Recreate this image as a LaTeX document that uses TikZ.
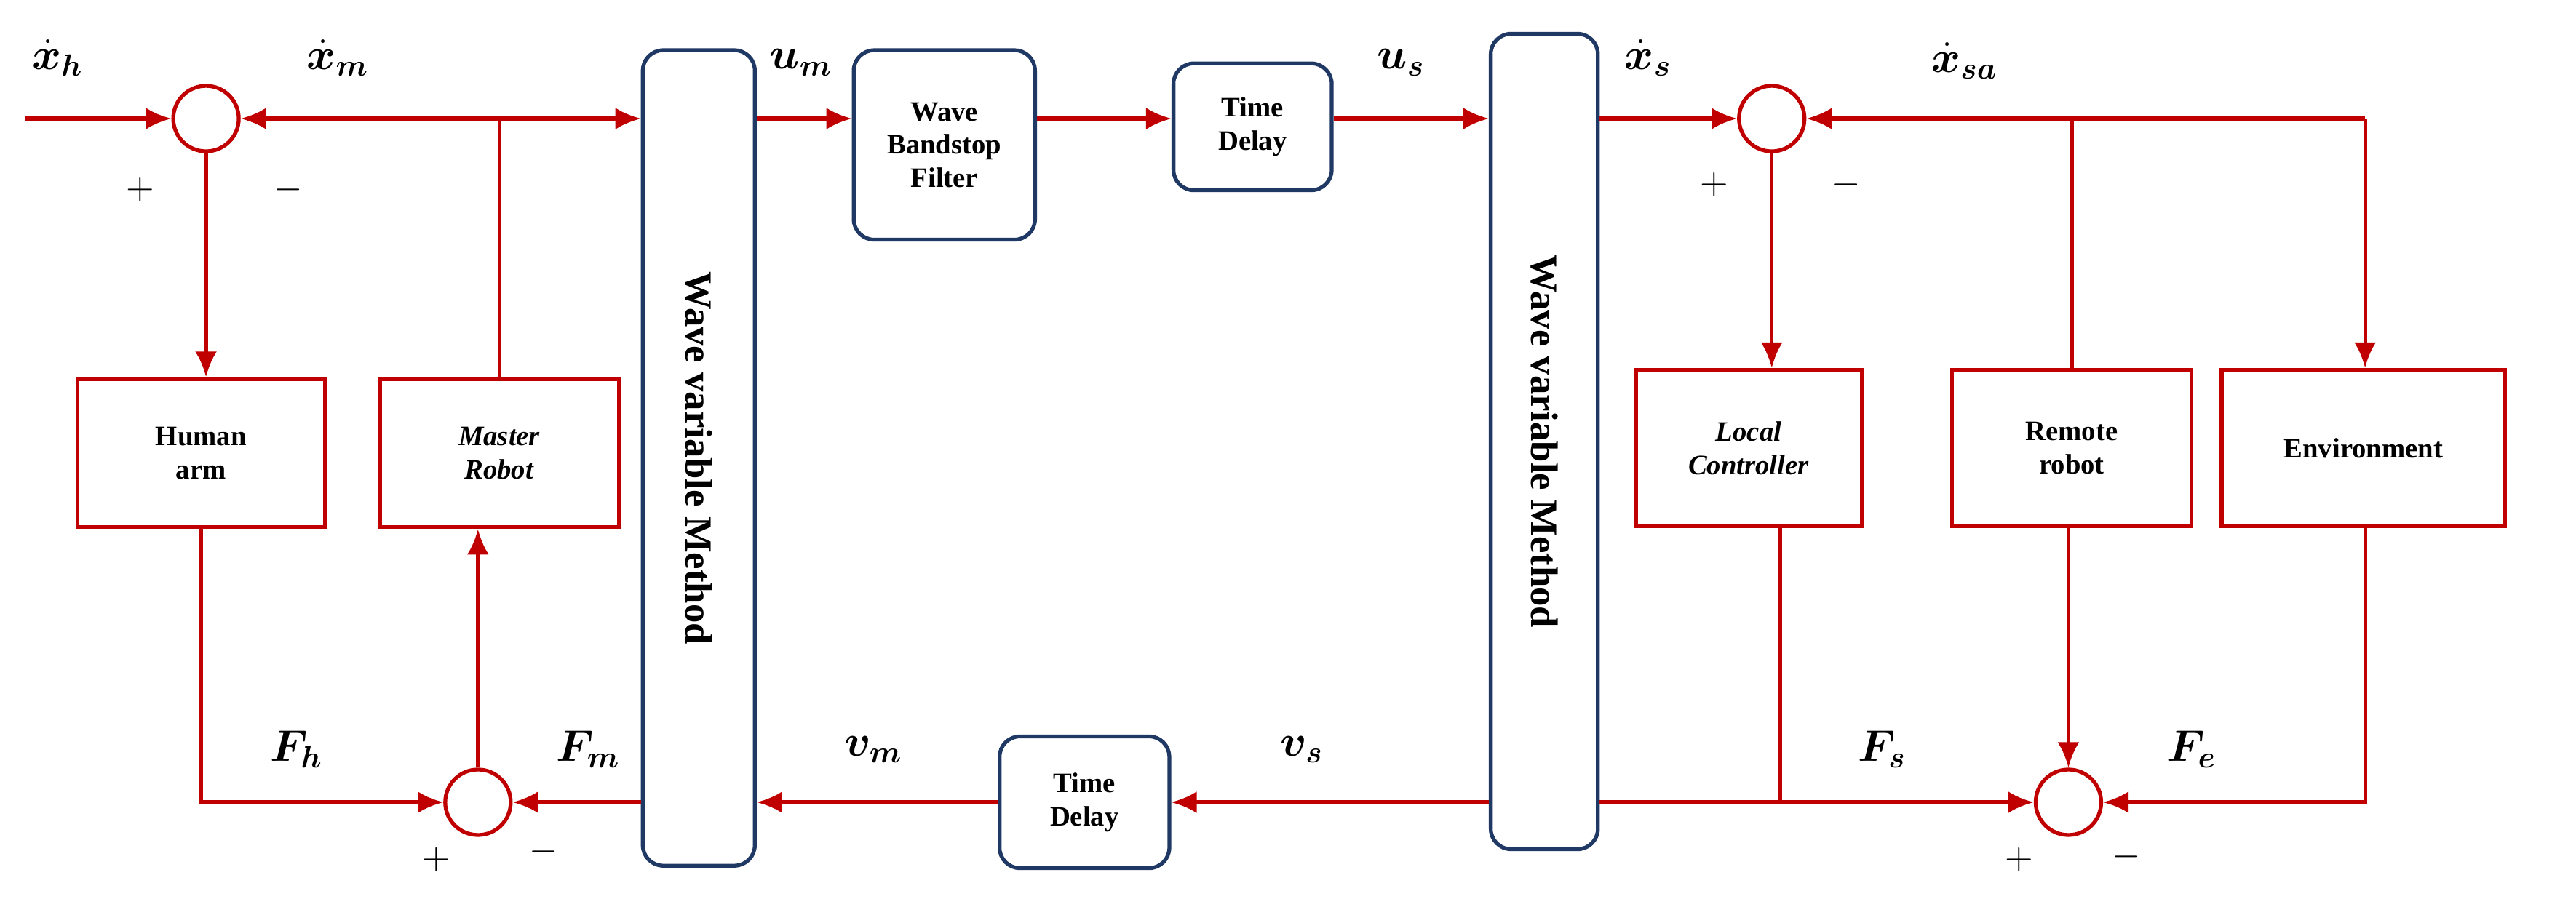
\documentclass[tikz,border=0pt]{standalone}
\usepackage{amsmath,bm}
\usepackage{fontspec}
\setmainfont{Liberation Serif}
\usetikzlibrary{arrows.meta, positioning}
\definecolor{lred}{RGB}{192,0,0}
\definecolor{navy}{RGB}{31,56,100}
\tikzset{
  sum/.style={circle, draw=lred, line width=1.5pt, minimum size=0.9cm, inner sep=0pt},
  blk/.style={draw=lred, line width=1.5pt, font=\bfseries\fontsize{11}{13}\selectfont, align=center, inner sep=0pt},
  rblk/.style={draw=navy, line width=1.5pt, rounded corners=8pt, font=\bfseries\fontsize{11}{13}\selectfont, align=center, inner sep=0pt},
  lab/.style={font=\fontsize{18}{20}\selectfont},
  sg/.style={font=\fontsize{14}{16}\selectfont},
  line/.style={lred, line width=1.5pt},
}
\begin{document}
\begin{tikzpicture}[x=0.02265cm, y=-0.02265cm, >={Latex[length=3.5mm,width=3mm]}]
\useasboundingbox (0,0) rectangle (1563,560);
        % summing points
        \node[sum] (s1) at (125,72) {};
        \node[sum] (s2) at (290,487) {};
        \node[sum] (s3) at (1075,72) {};
        \node[sum] (s4) at (1255,487) {};
        % blocks
        \node[blk, minimum width=150*0.02265cm, minimum height=90*0.02265cm] (arm) at (122,275) {Human\\arm};
        \node[blk, minimum width=145*0.02265cm, minimum height=90*0.02265cm] (mr) at (303,275) {\textit{Master}\\\textit{Robot}};
        \node[rblk, minimum width=68*0.02265cm, minimum height=495*0.02265cm] (wv1) at (424,278) {};
        \node[rotate=-90, font=\bfseries\fontsize{15}{17}\selectfont] at (wv1) {Wave variable Method};
        \node[rblk, minimum width=110*0.02265cm, minimum height=115*0.02265cm] (bsf) at (573,88) {Wave\\Bandstop\\Filter};
        \node[rblk, minimum width=96*0.02265cm, minimum height=77*0.02265cm] (td1) at (760,77) {Time\\Delay};
        \node[rblk, minimum width=65*0.02265cm, minimum height=495*0.02265cm] (wv2) at (937,268) {};
        \node[rotate=-90, font=\bfseries\fontsize{15}{17}\selectfont] at (wv2) {Wave variable Method};
        \node[rblk, minimum width=103*0.02265cm, minimum height=80*0.02265cm] (td2) at (658,487) {Time\\Delay};
        \node[blk, minimum width=137*0.02265cm, minimum height=95*0.02265cm] (lc) at (1061,272) {\textit{Local}\\\textit{Controller}};
        \node[blk, minimum width=145*0.02265cm, minimum height=95*0.02265cm] (rr) at (1257,272) {Remote\\robot};
        \node[blk, minimum width=172*0.02265cm, minimum height=95*0.02265cm] (env) at (1434,272) {Environment};
        % junctions
        \coordinate (in) at (15,72);
        \coordinate (j1) at (303,72);
        \coordinate (j2) at (1257,72);
        \coordinate (j3) at (1435,72);
        \coordinate (j4) at (122,487);
        \coordinate (j5) at (1080,487);
        \coordinate (j6) at (1435,487);
        % master side
        \draw[line,->] (in) -- (s1);
        \draw[line,->] (j1) -- (s1);
        \draw[line,->] (j1) -- (wv1.west |- j1);
        \draw[line] (mr.north) -- (j1);
        \draw[line,->] (s1) -- (arm.north -| s1);
        \draw[line,->] (arm.south) -- (j4) -- (s2);
        \draw[line,->] (s2) -- (mr.south -| s2);
        \draw[line,->] (wv1.west |- s2) -- (s2);
        % channel
        \draw[line,->] (wv1.east |- j1) -- (bsf.west |- j1);
        \draw[line,->] (bsf.east |- j1) -- (td1.west |- j1);
        \draw[line,->] (td1.east |- j1) -- (wv2.west |- j1);
        \draw[line,->] (wv2.west |- s4) -- (td2.east);
        \draw[line,->] (td2.west) -- (wv1.east |- s4);
        % slave side
        \draw[line,->] (wv2.east |- s3) -- (s3);
        \draw[line,->] (j3) -- (s3);
        \draw[line] (rr.north) -- (j2);
        \draw[line,->] (j3) -- (env.north -| j3);
        \draw[line,->] (s3) -- (lc.north -| s3);
        \draw[line] (lc.south -| j5) -- (j5);
        \draw[line,->] (wv2.east |- s4) -- (s4);
        \draw[line,->] (rr.south -| s4) -- (s4);
        \draw[line,->] (env.south -| j6) -- (j6) -- (s4);
        % labels
        \node[lab] at (35,35) {$\bm{\dot x_h}$};
        \node[lab] at (205,35) {$\bm{\dot x_m}$};
        \node[sg] at (85,115) {$+$};
        \node[sg] at (175,115) {$-$};
        \node[lab] at (180,455) {$\bm{F_h}$};
        \node[lab] at (357,455) {$\bm{F_m}$};
        \node[sg] at (265,522) {$+$};
        \node[sg] at (330,517) {$-$};
        \node[lab] at (486,38) {$\bm{u_m}$};
        \node[lab] at (850,38) {$\bm{u_s}$};
        \node[lab] at (530,455) {$\bm{v_m}$};
        \node[lab] at (790,455) {$\bm{v_s}$};
        \node[lab] at (1000,35) {$\bm{\dot x_s}$};
        \node[lab] at (1192,37) {$\bm{\dot x_{sa}}$};
        \node[sg] at (1040,112) {$+$};
        \node[sg] at (1120,112) {$-$};
        \node[lab] at (1142,455) {$\bm{F_s}$};
        \node[lab] at (1330,455) {$\bm{F_e}$};
        \node[sg] at (1225,522) {$+$};
        \node[sg] at (1290,520) {$-$};
\end{tikzpicture}
\end{document}
